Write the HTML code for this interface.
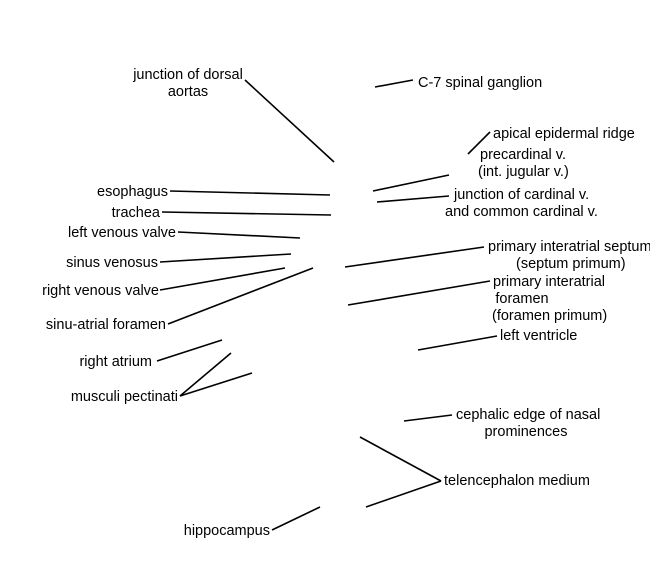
<!DOCTYPE html>
<html><head><meta charset="utf-8"><style>
html,body{margin:0;padding:0;background:#fff}
svg{display:block}
text{font-family:"Liberation Sans",Arial,sans-serif;font-size:14.5px;fill:#000;dominant-baseline:central}
line{stroke:#000;stroke-width:1.6}
</style></head><body>
<svg width="650" height="582" viewBox="0 0 650 582">
<g>
<line x1="245" y1="80" x2="334" y2="162"/>
<line x1="375" y1="87" x2="413" y2="80"/>
<line x1="468" y1="154" x2="490" y2="132"/>
<line x1="373" y1="191" x2="449" y2="175"/>
<line x1="377" y1="202" x2="449" y2="196"/>
<line x1="170" y1="191" x2="330" y2="195"/>
<line x1="162" y1="212" x2="331" y2="215"/>
<line x1="178" y1="232" x2="300" y2="238"/>
<line x1="160" y1="262" x2="291" y2="254"/>
<line x1="160" y1="290" x2="285" y2="268"/>
<line x1="168" y1="324" x2="313" y2="268"/>
<line x1="345" y1="267" x2="484" y2="247"/>
<line x1="348" y1="305" x2="490" y2="281"/>
<line x1="418" y1="350" x2="497" y2="336"/>
<line x1="157" y1="361" x2="222" y2="340"/>
<line x1="180" y1="396" x2="231" y2="353"/>
<line x1="180" y1="396" x2="252" y2="373"/>
<line x1="404" y1="421" x2="452" y2="415"/>
<line x1="360" y1="437" x2="441" y2="481"/>
<line x1="366" y1="507" x2="441" y2="481"/>
<line x1="272" y1="530" x2="320" y2="507"/>
</g>
<g transform="translate(0,1)">
<text x="188" y="74" text-anchor="middle">junction of dorsal</text>
<text x="188" y="91" text-anchor="middle">aortas</text>
<text x="418" y="82">C-7 spinal ganglion</text>
<text x="493" y="133">apical epidermal ridge</text>
<text x="480" y="154">precardinal v.</text>
<text x="478" y="171">(int. jugular v.)</text>
<text x="454" y="194">junction of cardinal v.</text>
<text x="445" y="211">and common cardinal v.</text>
<text x="168" y="191" text-anchor="end">esophagus</text>
<text x="160" y="212" text-anchor="end">trachea</text>
<text x="176" y="232" text-anchor="end">left venous valve</text>
<text x="158" y="262" text-anchor="end">sinus venosus</text>
<text x="159" y="290" text-anchor="end">right venous valve</text>
<text x="166" y="324" text-anchor="end">sinu-atrial foramen</text>
<text x="488" y="246">primary interatrial septum</text>
<text x="516" y="263">(septum primum)</text>
<text x="493" y="281">primary interatrial</text>
<text x="522" y="298" text-anchor="middle">foramen</text>
<text x="492" y="315">(foramen primum)</text>
<text x="500" y="335">left ventricle</text>
<text x="152" y="361" text-anchor="end">right atrium</text>
<text x="178" y="396" text-anchor="end">musculi pectinati</text>
<text x="456" y="414">cephalic edge of nasal</text>
<text x="526" y="431" text-anchor="middle">prominences</text>
<text x="444" y="480">telencephalon medium</text>
<text x="270" y="530" text-anchor="end">hippocampus</text>
</g>
</svg>
</body></html>
